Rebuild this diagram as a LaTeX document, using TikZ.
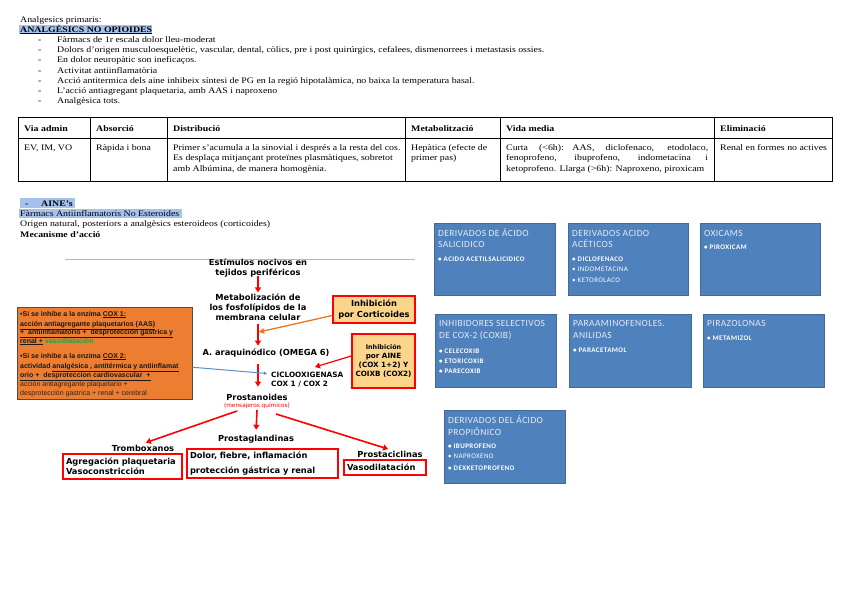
\documentclass[tikz,border=0pt]{standalone}
\usepackage{fontspec}
\setmainfont{Liberation Serif}[FakeStretch=1.16]
\newfontfamily\vfont{DejaVu Sans}
\newfontfamily\afont{Liberation Sans}
\newfontfamily\cfont{Carlito}[LetterSpace=4]
\newfontfamily\cbfont{Carlito}[LetterSpace=6]
\usetikzlibrary{arrows.meta,calc,shadows}
\definecolor{hlblue}{RGB}{166,194,236}
\definecolor{bxblue}{RGB}{79,129,189}
\definecolor{bxedge}{RGB}{65,105,155}
\definecolor{bxtitle}{RGB}{228,235,246}
\definecolor{orfill}{RGB}{237,125,49}
\definecolor{infill}{RGB}{252,213,140}
\definecolor{rd}{RGB}{255,0,0}
\definecolor{orarrow}{RGB}{230,120,30}
\definecolor{blline}{RGB}{95,140,200}
\definecolor{grn}{RGB}{0,176,80}
\definecolor{gline}{RGB}{185,185,185}
\begin{document}
\begin{tikzpicture}[x=1pt,y=-1pt,
  body/.style={anchor=base west, inner sep=0pt, font=\fontsize{8.5}{10}\selectfont},
  bodyb/.style={anchor=base west, inner sep=0pt, font=\bfseries\fontsize{8.5}{10}\selectfont},
  flow/.style={font=\vfont\bfseries\fontsize{8.3}{10}\selectfont, align=center, inner sep=1pt},
  redarr/.style={draw=rd, line width=1.6pt, -{Triangle[length=5pt,width=6pt]}},
  orarr/.style={draw=orarrow, line width=1.3pt, -{Triangle[length=5pt,width=5.5pt]}},
  blarr/.style={draw=blline, line width=1pt, -{Triangle[length=3pt,width=3pt]}},
  inhbox/.style={draw=rd, line width=1.6pt, fill=infill, align=center, inner sep=0pt},
  resbox/.style={draw=rd, line width=1.3pt, fill=white, inner sep=0pt, align=left,
     font=\vfont\bfseries\fontsize{8.3}{10}\selectfont},
  otxt/.style={anchor=base west, inner sep=0pt, text=black!90, font=\afont\bfseries\fontsize{7}{7}\selectfont},
  otxtn/.style={anchor=base west, inner sep=0pt, text=black!85, font=\afont\fontsize{7}{7}\selectfont},
  bluebox/.style={fill=bxblue, draw=bxedge, line width=0.4pt, anchor=north west, inner sep=0pt,
     drop shadow={opacity=0.35, shadow xshift=1.2pt, shadow yshift=-1.2pt}},
  btitle/.style={anchor=base west, inner sep=0pt, text=bxtitle, font=\cfont\fontsize{9.5}{12}\selectfont},
  bitem/.style={anchor=base west, inner sep=0pt, text=white, font=\cbfont\bfseries\fontsize{7}{8}\selectfont},
  bitemn/.style={anchor=base west, inner sep=0pt, text=white, font=\cbfont\fontsize{7}{8}\selectfont}
]
\useasboundingbox (0,0) rectangle (848,600);
\fill[white] (0,0) rectangle (848,600);

% ---------- header ----------
\node[body] (l0) at (20,22) {Analgesics primaris:};
\fill[hlblue] (19,25) rectangle (152,34);
\node[bodyb] (l1) at (20,32) {\underline{ANALGÈSICS NO OPIOIDES}};
\foreach \y/\t [count=\i] in {42/{Fàrmacs de 1r escala dolor lleu-moderat},
  52/{Dolors d'origen musculoesquelètic, vascular, dental, còlics, pre i post quirúrgics, cefalees, dismenorrees i metastasis ossies.},
  62/{En dolor neuropàtic son ineficaços.},
  73/{Activitat antiinflamatòria},
  83/{Acció antitermica dels aine inhibeix síntesi de PG en la regió hipotalàmica, no baixa la temperatura basal.},
  93/{L'acció antiagregant plaquetaria, amb AAS i naproxeno},
  103/{Analgèsica tots.}}{
  \node[body] (d\i) at (38,\y) {-};
  \node[body] (b\i) at (57,\y) {\t};
}

% ---------- table ----------
\draw[line width=0.9pt] (18,117) rectangle (832,181);
\draw[line width=0.6pt] (18,138) -- (832,138);
\foreach \x in {90,167,405,500,714}{\draw[line width=0.6pt] (\x,117) -- (\x,181);}
\node[bodyb] (h1) at (24,131) {Via admin};
\node[bodyb] (h2) at (96,131) {Absorció};
\node[bodyb] (h3) at (173,131) {Distribució};
\node[bodyb] (h4) at (411,131) {Metabolització};
\node[bodyb] (h5) at (506,131) {Vida media};
\node[bodyb] (h6) at (720,131) {Eliminació};
\node[body] (c1) at (24,150) {EV, IM, VO};
\node[body] (c2) at (96,150) {Ràpida i bona};
\node[body] (c3a) at (173,150) {Primer s'acumula a la sinovial i després a la resta del cos.};
\node[body] (c3b) at (173,160) {Es desplaça mitjançant proteïnes plasmàtiques, sobretot};
\node[body] (c3c) at (173,171) {amb Albúmina, de manera homogènia.};
\node[body] (c4a) at (411,150) {Hepàtica (efecte de};
\node[body] (c4b) at (411,160) {primer pas)};
\node[body] (c5a) at (506,150) {\makebox[202pt][s]{Curta (<6h):\quad AAS, diclofenaco, etodolaco,}};
\node[body] (c5b) at (506,160) {\makebox[202pt][s]{fenoprofeno, ibuprofeno, indometacina i}};
\node[body] (c5c) at (506,171) {ketoprofeno. Llarga (>6h): Naproxeno, piroxicam};
\node[body] (c6) at (720,150) {Renal en formes no actives};

% ---------- AINE section ----------
\fill[hlblue] (20,198) rectangle (75,208);
\node[bodyb] (a0d) at (25,206) {-};
\node[bodyb] (a0) at (41,206) {AINE's};
\fill[hlblue] (19,209) rectangle (182,218);
\node[body] (a1) at (20,216) {Fàrmacs Antiinflamatoris No Esteroides};
\node[body] (a2) at (20,226) {Origen natural, posteriors a analgèsics esteroideos (corticoides)};
\node[bodyb] (a3) at (20,237) {Mecanisme d'acció};

\draw[gline, line width=0.8pt] (65,259) -- (415,259);

% ---------- flow ----------
\node[flow] (estim) at (258,268) {Estímulos nocivos en\\tejidos periféricos};
\node[flow] (metab) at (258,307) {Metabolización de\\los fosfolípidos de la\\membrana celular};
\node[flow] (araq) at (266,353) {A. araquinódico (OMEGA 6)};
\node[flow, align=left, anchor=west, font=\vfont\bfseries\fontsize{7.3}{9.5}\selectfont] (ciclo) at (270,379.5) {CICLOOXIGENASA\\COX 1 / COX 2};
\node[flow] (prost) at (257,397) {Prostanoides};
\node[font=\vfont\fontsize{5.8}{6}\selectfont, text=rd, inner sep=0.5pt] (mens) at (257,405.5) {(mensajeros químicos)};

\node[inhbox, minimum width=82pt, minimum height=27pt, font=\vfont\bfseries\fontsize{8.3}{11}\selectfont] (cortic) at (374,309.5) {Inhibición\\por Corticoides};
\node[inhbox, minimum width=63pt, minimum height=54pt, font=\vfont\bfseries\fontsize{7.2}{9}\selectfont] (aine) at (383.5,361) {{\fontsize{6.4}{9}\selectfont Inhibición}\\por AINE\\(COX 1+2) Y\\COIXB (COX2)};

\node[draw=black!70, line width=0.5pt, fill=orfill, minimum width=175pt, minimum height=92pt, anchor=north west, inner sep=0pt] (orbox) at (17,307) {};
\node[otxt] (o1) at (20,316) {•Si se inhibe a la enzima \underline{COX 1:}};
\node[otxt] (o2) at (20,326) {\underline{acción antiagregante plaquetarios (AAS)}};
\node[otxt] (o3) at (20,334) {\underline{+\ \ antiinflamatorio +\ \ desprotección gástrica y}};
\node[otxt] (o4) at (20,343) {\underline{renal +} \textcolor{grn}{vasodilatación}};
\node[otxt] (o5) at (20,358) {•Si se inhibe a la enzima \underline{COX 2:}};
\node[otxt] (o6) at (20,368) {actividad \underline{analgésica , antitérmica y antiinflamat}};
\node[otxt] (o7) at (20,377) {\underline{orio +\ \ desproteccion cardiovascular\ \ +}};
\node[otxtn] (o8) at (20,386) {acción antiagregante plaquetario +};
\node[otxtn] (o9) at (20,395) {desprotección gastrica + renal + cerebral};

\coordinate (oc) at (259,332);
\coordinate (ct) at (315,367);
\coordinate (bl) at (267,373.5);
\draw[redarr, shorten <=-2pt] (estim.south) -- (metab.north);
\draw[redarr, shorten <=2pt, shorten >=2pt] (metab.south) -- (metab.south |- araq.north);
\draw[redarr, shorten <=6pt, shorten >=6pt] (metab.south |- araq.south) -- (metab.south |- prost.north);
\draw[orarr] ($(cortic.west)+(0,6)$) -- (oc);
\draw[redarr, line width=1.2pt] ($(aine.west)+(0,-5)$) -- (ct);
\draw[blarr] ($(orbox.east)+(0,14)$) -- (bl);

\node[flow] (tromb) at (143,448) {Tromboxanos};
\node[flow] (prostag) at (256,439) {Prostaglandinas};
\node[flow] (prostac) at (390,454) {Prostaciclinas};
\coordinate (pl) at (237,411);
\coordinate (pm) at (257,410);
\coordinate (pr) at (276,414);
\draw[redarr, shorten >=3pt] (pl) -- (tromb.north);
\draw[redarr, shorten >=4pt] (pm) -- (prostag.north);
\draw[redarr, shorten >=2pt] (pr) -- (prostac.north);

\node[resbox, minimum width=119pt, minimum height=25pt, text width=113pt] (r1) at (122.5,466.5) {Agregación plaquetaria\\Vasoconstricción};
\node[resbox, minimum width=151pt, minimum height=29pt, text width=145pt, font=\vfont\bfseries\fontsize{8.3}{15}\selectfont] (r2) at (262.5,463.5) {Dolor, fiebre, inflamación\\protección gástrica y renal};
\node[resbox, minimum width=82pt, minimum height=15pt, text width=76pt] (r3) at (385,467.5) {Vasodilatación};

% ---------- blue boxes ----------
\node[bluebox, minimum width=121pt, minimum height=72pt] (bx1) at (434,223) {};
\node[btitle] (bx1t1) at (438,236.5) {DERIVADOS DE ÁCIDO};
\node[btitle] (bx1t2) at (438,247.5) {SALICIDICO};
\node[bitem] (bx1i1) at (438,261.5) {• ACIDO ACETILSALICIDICO};

\node[bluebox, minimum width=120pt, minimum height=72pt] (bx2) at (568,223) {};
\node[btitle] (bx2t1) at (572,236.5) {DERIVADOS ACIDO};
\node[btitle] (bx2t2) at (572,247.5) {ACÉTICOS};
\node[bitem] (bx2i1) at (572,261.5) {• DICLOFENACO};
\node[bitemn] (bx2i2) at (572,271.5) {• INDOMETACINA};
\node[bitemn] (bx2i3) at (572,282) {• KETOROLACO};

\node[bluebox, minimum width=120pt, minimum height=72pt] (bx3) at (700,223) {};
\node[btitle] (bx3t1) at (704,236.5) {OXICAMS};
\node[bitem] (bx3i1) at (704,249.5) {• PIROXICAM};

\node[bluebox, minimum width=121pt, minimum height=73pt] (bx4) at (435,314) {};
\node[btitle] (bx4t1) at (439,326) {INHIBIDORES SELECTIVOS};
\node[btitle] (bx4t2) at (439,338) {DE COX-2 (COXIB)};
\node[bitem] (bx4i1) at (439,353.5) {• CELECOXIB};
\node[bitem] (bx4i2) at (439,363) {• ETORICOXIB};
\node[bitem] (bx4i3) at (439,373.5) {• PARECOXIB};

\node[bluebox, minimum width=122pt, minimum height=73pt] (bx5) at (569,314) {};
\node[btitle] (bx5t1) at (573,326) {PARAAMINOFENOLES.};
\node[btitle] (bx5t2) at (573,338) {ANILIDAS};
\node[bitem] (bx5i1) at (573,352.5) {• PARACETAMOL};

\node[bluebox, minimum width=121pt, minimum height=73pt] (bx6) at (703,314) {};
\node[btitle] (bx6t1) at (707,326) {PIRAZOLONAS};
\node[bitem] (bx6i1) at (707,340.5) {• METAMIZOL};

\node[bluebox, minimum width=121pt, minimum height=73pt] (bx7) at (444,410) {};
\node[btitle] (bx7t1) at (448,423.5) {DERIVADOS DEL ÁCIDO};
\node[btitle] (bx7t2) at (448,435.5) {PROPIÓNICO};
\node[bitem] (bx7i1) at (448,448.5) {• IBUPROFENO};
\node[bitemn] (bx7i2) at (448,458) {• NAPROXENO};
\node[bitem] (bx7i3) at (448,470.5) {• DEXKETOPROFENO};
\end{tikzpicture}
\end{document}
